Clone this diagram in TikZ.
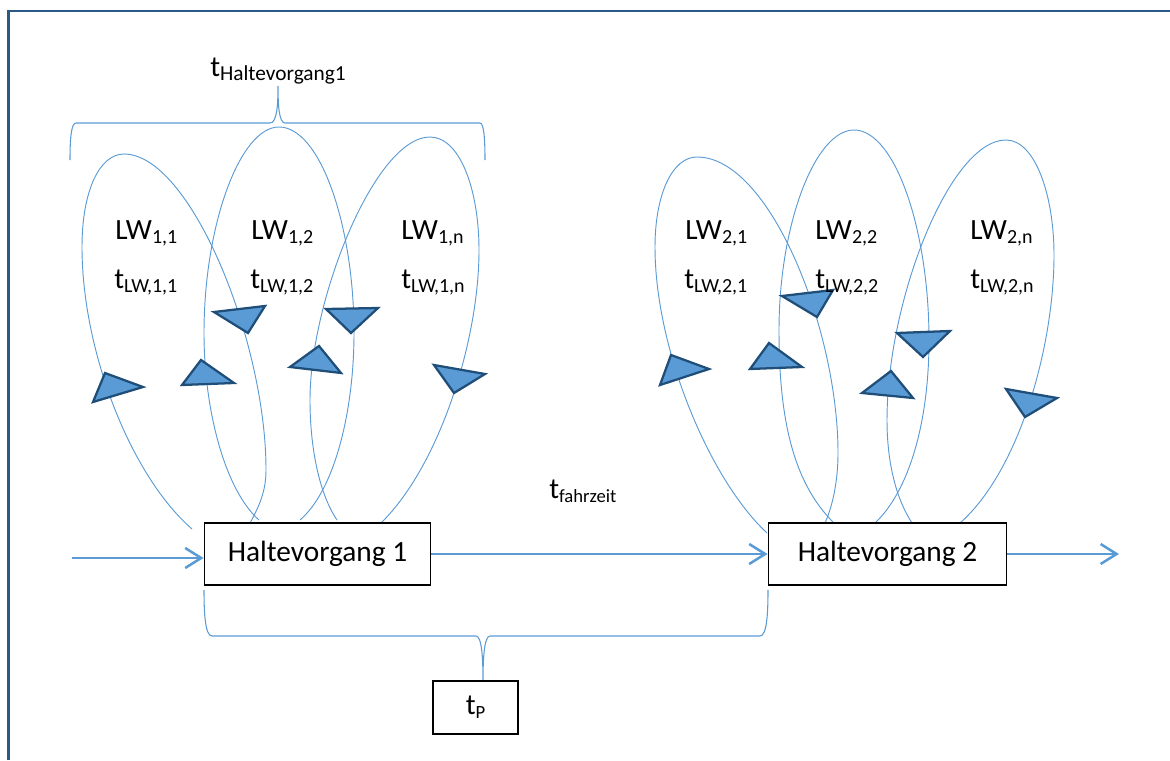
\documentclass[tikz,border=0pt]{standalone}
\usepackage{fontspec}
\setmainfont{Carlito}
\usetikzlibrary{arrows.meta}
\definecolor{loopblue}{HTML}{5B9BD5}
\definecolor{tridark}{HTML}{1F4E79}
\definecolor{framec}{HTML}{2A5A85}
\newcommand{\lab}[3][15]{#2\raisebox{-3pt}{\fontsize{#1}{#1}\selectfont #3}}
\tikzset{
 loopline/.style={draw=loopblue,line width=0.7pt},
 brace/.style={draw=loopblue,line width=0.8pt},
 flow/.style={draw=loopblue,line width=1.9pt,-{Straight Barb[length=12pt,width=15pt,line width=1.9pt]}},
 tri/.style={draw=tridark,fill=loopblue,line width=1.7pt,line join=miter},
 boxn/.style={draw=black,line width=1.4pt,fill=white,inner sep=0pt,font=\fontsize{22}{22}\selectfont},
 txt/.style={inner sep=0pt,anchor=base west,font=\fontsize{22}{22}\selectfont},
}
\begin{document}
\begin{tikzpicture}[x=0.75pt,y=-0.75pt]
\useasboundingbox (0,0) rectangle (1170,760);
\draw[framec,line width=1.9pt] (8.5,760) -- (8.5,11) -- (1170,11);
% braces
\draw[brace] (70,160) .. controls (70,140) and (71,123) .. (76,123) -- (270,123) .. controls (277,123) and (278,105) .. (278,86)
 .. controls (278,105) and (279,123) .. (285,123) -- (480,123) .. controls (484,123) and (485,140) .. (485,160);
\draw[brace] (204,590) .. controls (204,612) and (205,636) .. (212,636) -- (476,636) .. controls (482,636) and (483,660) .. (483,681)
 .. controls (483,660) and (484,636) .. (490,636) -- (760,636) .. controls (767,636) and (768,612) .. (768,590);
% loops group 1
\draw[loopline] (192,529) .. controls (130,475) and (82,350) .. (82,247) .. controls (82,190) and (100,154) .. (124,154)
 .. controls (190,154) and (266,340) .. (266,470) .. controls (266,490) and (260,505) .. (250,523);
\draw[loopline] (259,520) .. controls (225,490) and (204,410) .. (204,333) .. controls (204,225) and (240,127) .. (279,127)
 .. controls (320,127) and (354,225) .. (354,333) .. controls (354,410) and (335,490) .. (300,520);
\draw[loopline] (337,520) .. controls (320,495) and (310,450) .. (310,400) .. controls (310,300) and (375,137) .. (430,137)
 .. controls (460,137) and (479,190) .. (479,250) .. controls (479,340) and (440,465) .. (381,523);
% loops group 2
\draw[loopline] (767,533) .. controls (710,480) and (655,350) .. (655,247) .. controls (655,195) and (672,157) .. (697,157)
 .. controls (770,157) and (838,330) .. (838,453) .. controls (838,480) and (833,505) .. (825,523);
\draw[loopline] (834,523) .. controls (790,480) and (779,410) .. (779,330) .. controls (779,225) and (815,130) .. (854,130)
 .. controls (895,130) and (929,230) .. (929,340) .. controls (929,420) and (910,490) .. (875,523);
\draw[loopline] (912,523) .. controls (897,500) and (887,465) .. (887,420) .. controls (887,300) and (950,140) .. (1006,140)
 .. controls (1035,140) and (1054,195) .. (1054,255) .. controls (1054,345) and (1020,470) .. (960,523);
% triangles
\foreach \a/\b/\c in {{93,402}/{105,373}/{143,387},{182,385}/{201,360}/{234,383},{214,312}/{265,306}/{248,333},{290,367}/{319,346}/{341,373},{326,309}/{378,308}/{351,333},{434,365}/{485,374}/{454,393},
 {660,385}/{671,355}/{709,369},{750,369}/{769,343}/{802,367},{782,296}/{833,290}/{817,317},{897,333}/{950,331}/{923,357},{862,393}/{891,371}/{913,398},{1006,389}/{1057,398}/{1025,417}}
 {\draw[tri] (\a) -- (\b) -- (\c) -- cycle;}
% boxes
\node[boxn,minimum width=169.5pt,minimum height=46.5pt] (h1) at (317.5,554) {\raisebox{-2pt}{Haltevorgang 1}};
\node[boxn,minimum width=178.5pt,minimum height=46.5pt] (h2) at (887.5,554) {\raisebox{-2pt}{Haltevorgang 2}};
\node[boxn,minimum width=63.5pt,minimum height=39.5pt] (tp) at (475.5,707.5) {\raisebox{-2pt}{\lab[14]{t}{P}}};
\coordinate (in) at (72,558);
\coordinate (out) at (1119,554);
\draw[flow] (in) -- (h1.west |- in);
\draw[flow] (h1.east) -- (h2.west);
\draw[flow] (h2.east) -- (out);
% labels
\node[txt] (n0) at (210,76) {\lab[16]{t}{Haltevorgang1}};
\node[txt] (n1) at (115,239) {\lab{LW}{1,1}};
\node[txt] (n2) at (251,239) {\lab{LW}{1,2}};
\node[txt] (n3) at (401,239) {\lab{LW}{1,n}};
\node[txt] (n4) at (114,288) {\lab{t}{LW,1,1}};
\node[txt] (n5) at (250,288) {\lab{t}{LW,1,2}};
\node[txt] (n6) at (401,288) {\lab{t}{LW,1,n}};
\node[txt] (n7) at (685,239) {\lab{LW}{2,1}};
\node[txt] (n8) at (815,239) {\lab{LW}{2,2}};
\node[txt] (n9) at (970,239) {\lab{LW}{2,n}};
\node[txt] (n10) at (684,288) {\lab{t}{LW,2,1}};
\node[txt] (n11) at (815,288) {\lab{t}{LW,2,2}};
\node[txt] (n12) at (970,288) {\lab{t}{LW,2,n}};
\node[txt] (n13) at (549,498) {\lab[14]{t}{fahrzeit}};
\end{tikzpicture}
\end{document}
